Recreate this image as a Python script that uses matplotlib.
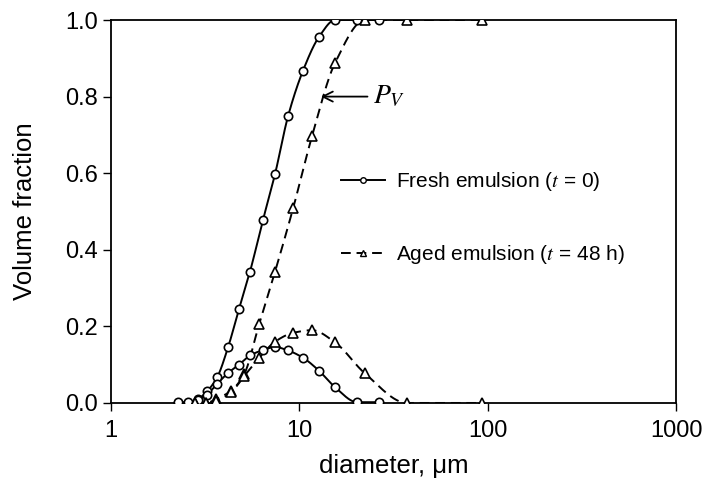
import numpy as np
import matplotlib
matplotlib.use("Agg")
import matplotlib.pyplot as plt
from matplotlib.lines import Line2D

plt.rcParams['font.family'] = ['Liberation Sans', 'DejaVu Sans']
plt.rcParams['mathtext.fontset'] = 'stix'

# fresh emulsion (t = 0)
d_fresh = [2.27, 2.56, 2.90, 3.23, 3.66, 4.18, 4.78, 5.47, 6.41, 7.43,
           8.71, 10.46, 12.72, 15.47, 20.25, 26.5]
pv_fresh = [0.0, 0.0, 0.01, 0.03, 0.067, 0.145, 0.245, 0.343, 0.478, 0.598,
            0.749, 0.868, 0.956, 1.0, 1.0, 1.0]
pdf_fresh = [0.002, 0.002, 0.008, 0.022, 0.05, 0.078, 0.100, 0.124, 0.138, 0.146,
             0.137, 0.118, 0.084, 0.041, 0.002, 0.002]

# aged emulsion (t = 48 h)
d_aged = [2.79, 3.20, 3.61, 4.34, 5.09, 6.11, 7.43, 9.26, 11.68, 15.47,
          22.3, 37.3, 93.4]
pv_aged = [0.0, 0.0, 0.01, 0.032, 0.075, 0.205, 0.343, 0.508, 0.697, 0.888,
           1.0, 1.0, 1.0]
pdf_aged = [0.0, 0.0, 0.005, 0.028, 0.07, 0.117, 0.16, 0.183, 0.19, 0.158,
            0.077, 0.0, 0.0]

xticks = [1, 10, 100, 1000]
yticks = [0.0, 0.2, 0.4, 0.6, 0.8, 1.0]


def smooth(x, y, n=400):
    # monotone cubic hermite through the points, in log10(x)
    lx = np.log10(np.asarray(x, float))
    y = np.asarray(y, float)
    h = np.diff(lx)
    d = np.diff(y) / h
    m = np.zeros_like(y)
    m[0], m[-1] = d[0], d[-1]
    for k in range(1, len(y) - 1):
        if d[k - 1] * d[k] > 0:
            w1 = 2 * h[k] + h[k - 1]
            w2 = h[k] + 2 * h[k - 1]
            m[k] = (w1 + w2) / (w1 / d[k - 1] + w2 / d[k])
    xs = np.linspace(lx[0], lx[-1], n)
    idx = np.clip(np.searchsorted(lx, xs) - 1, 0, len(lx) - 2)
    t = (xs - lx[idx]) / h[idx]
    h00 = 2 * t**3 - 3 * t**2 + 1
    h10 = t**3 - 2 * t**2 + t
    h01 = -2 * t**3 + 3 * t**2
    h11 = t**3 - t**2
    ys = h00 * y[idx] + h10 * h[idx] * m[idx] + h01 * y[idx + 1] + h11 * h[idx] * m[idx + 1]
    return 10**xs, ys


fig = plt.figure(figsize=(7.04, 4.82), dpi=100)
ax = fig.add_axes([0.1577, 0.164, 0.8026, 0.7945])

dash = (0, (5, 3))
for d, yy in [(d_fresh, pv_fresh), (d_fresh, pdf_fresh)]:
    sx, sy = smooth(d, yy)
    ax.plot(sx, sy, color='black', lw=1.4, zorder=2)
    ax.plot(d, yy, 'o', ms=6, mfc='white', mec='black', mew=1.2, zorder=3)
for d, yy in [(d_aged, pv_aged), (d_aged, pdf_aged)]:
    sx, sy = smooth(d, yy)
    ax.plot(sx, sy, color='black', lw=1.4, ls=dash, zorder=2)
    ax.plot(d, yy, '^', ms=6.5, mfc='white', mec='black', mew=1.2, zorder=3)

ax.set_xscale('log')
ax.set_xlim(1, 1000)
ax.set_ylim(0, 1.0)
ax.set_xticks(xticks)
ax.set_xticklabels([str(v) for v in xticks])
ax.xaxis.set_minor_locator(matplotlib.ticker.NullLocator())
ax.set_yticks(yticks)
ax.set_yticklabels(['%.1f' % v for v in yticks])
ax.tick_params(direction='out', length=6, width=1, labelsize=17, top=False, right=False)
ax.tick_params(axis='x', pad=6)
for s in ax.spines.values():
    s.set_linewidth(1.3)

ax.set_xlabel('diameter, \u03bcm', fontsize=18.5, labelpad=9)
ax.set_ylabel('Volume fraction', fontsize=18.5, labelpad=20)

# arrow pointing at the cumulative curve
ax.annotate('', xy=(13.0, 0.8), xytext=(23.0, 0.8),
            arrowprops=dict(arrowstyle='->', color='black', lw=1.3,
                            mutation_scale=18, shrinkA=0, shrinkB=0))
ax.text(24.5, 0.8, '$P_V$', fontsize=20, va='center', ha='left')

handles = [
    Line2D([], [], color='black', lw=1.4, marker='o', ms=4, mfc='white', mec='black'),
    Line2D([], [], color='black', lw=1.4, ls=dash, marker='^', ms=4, mfc='white', mec='black'),
]
labels = ['Fresh emulsion ($t$ = 0)', 'Aged emulsion ($t$ = 48 h)']
ax.legend(handles, labels, loc='upper left', bbox_to_anchor=(0.393, 0.63),
          frameon=False, fontsize=15, labelspacing=2.4, handlelength=2.1,
          handletextpad=0.5, borderaxespad=0)

fig.savefig('out.png', dpi=100)
